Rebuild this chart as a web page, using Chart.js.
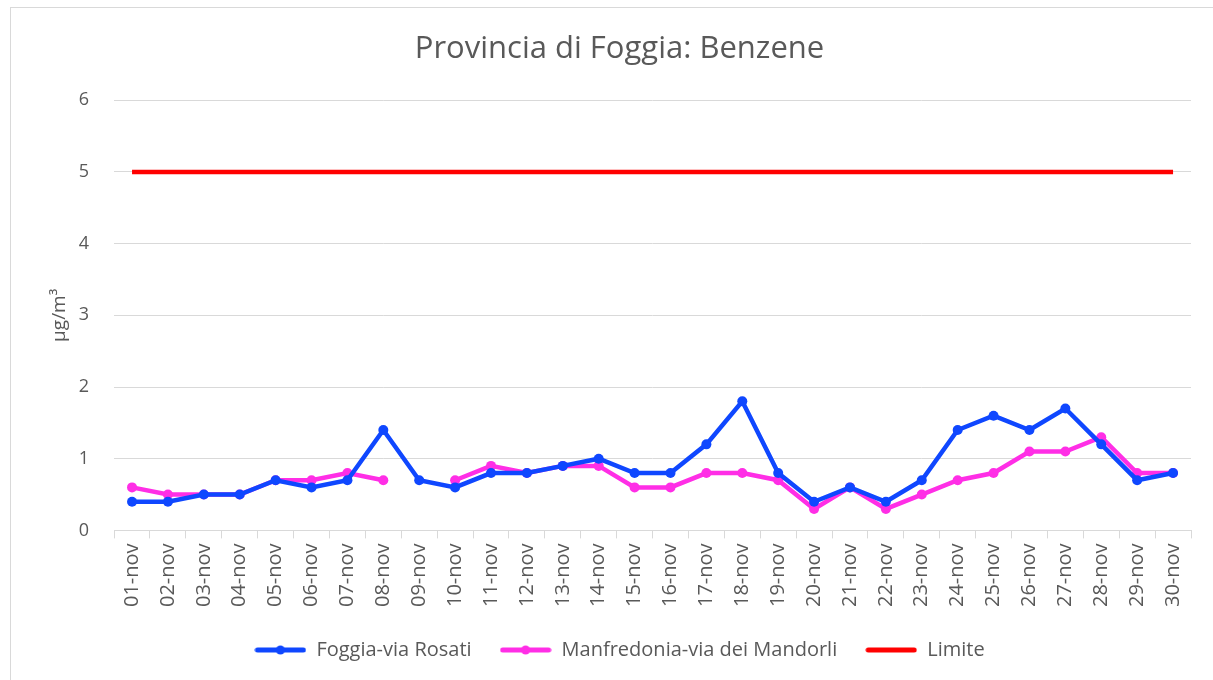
<!DOCTYPE html>
<html>
<head>
<meta charset="utf-8">
<script src="https://cdn.jsdelivr.net/npm/chart.js@4.4.1/dist/chart.umd.min.js"></script>
<style>
  html, body { margin: 0; padding: 0; background: #fff; }
  #wrap { position: absolute; left: 10px; top: 7px; width: 1210px; height: 680px; border: 1px solid #d9d9d9; box-sizing: border-box; }
  #c { position: absolute; left: 0; top: 0; }
</style>
</head>
<body>
<div id="wrap"></div>
<canvas id="c" width="1213" height="680"></canvas>
<script>
const days = ["01-nov","02-nov","03-nov","04-nov","05-nov","06-nov","07-nov","08-nov","09-nov","10-nov",
  "11-nov","12-nov","13-nov","14-nov","15-nov","16-nov","17-nov","18-nov","19-nov","20-nov",
  "21-nov","22-nov","23-nov","24-nov","25-nov","26-nov","27-nov","28-nov","29-nov","30-nov"];
const foggia = [0.4,0.4,0.5,0.5,0.7,0.6,0.7,1.4,0.7,0.6,0.8,0.8,0.9,1.0,0.8,0.8,1.2,1.8,0.8,0.4,
  0.6,0.4,0.7,1.4,1.6,1.4,1.7,1.2,0.7,0.8];
const manfredonia = [0.6,0.5,0.5,0.5,0.7,0.7,0.8,0.7,null,0.7,0.9,0.8,0.9,0.9,0.6,0.6,0.8,0.8,0.7,0.3,
  0.6,0.3,0.5,0.7,0.8,1.1,1.1,1.3,0.8,0.8];
const limite = days.map(() => 5);

const BLUE = "#0f47ff", PINK = "#ff2ee6", RED = "#ff0000";
const GREY = "#595959";

// legend marker: thick line with a dot in the middle
function marker(color, dot) {
  const c = document.createElement("canvas");
  c.width = 52; c.height = 12;
  const g = c.getContext("2d");
  g.strokeStyle = color; g.lineWidth = 5; g.lineCap = "round";
  g.beginPath(); g.moveTo(3, 6); g.lineTo(49, 6); g.stroke();
  if (dot) { g.fillStyle = color; g.beginPath(); g.arc(26, 6, 4.5, 0, Math.PI * 2); g.fill(); }
  return c;
}

const ctx = document.getElementById("c").getContext("2d");
new Chart(ctx, {
  type: "line",
  data: {
    labels: days,
    datasets: [
      { label: "Foggia-via Rosati", data: foggia, borderColor: BLUE, backgroundColor: BLUE,
        borderWidth: 4.5, pointRadius: 5, pointBackgroundColor: BLUE, pointBorderWidth: 0,
        legendMarker: marker(BLUE, true) },
      { label: "Manfredonia-via dei Mandorli", data: manfredonia, borderColor: PINK, backgroundColor: PINK,
        borderWidth: 4.5, pointRadius: 5, pointBackgroundColor: PINK, pointBorderWidth: 0,
        spanGaps: false, legendMarker: marker(PINK, true) },
      { label: "Limite", data: limite, borderColor: RED, backgroundColor: RED,
        borderWidth: 4.5, pointRadius: 0, legendMarker: marker(RED, false) }
    ]
  },
  options: {
    responsive: false,
    animation: false,
    layout: { padding: { left: 48, right: 22, top: 14, bottom: 10 } },
    plugins: {
      title: { display: true, text: "Provincia di Foggia: Benzene", color: GREY,
        font: { family: "Open Sans", size: 31, weight: "normal" }, padding: { top: 17, bottom: 32 } },
      legend: { position: "bottom",
        labels: { usePointStyle: true, pointStyleWidth: 52, color: GREY, padding: 28,
          font: { family: "Open Sans", size: 20 },
          generateLabels: (chart) => chart.data.datasets.map((d, i) => ({
            text: d.label, pointStyle: d.legendMarker, fontColor: GREY,
            strokeStyle: d.borderColor, fillStyle: d.borderColor, lineWidth: 0, datasetIndex: i, hidden: false
          })) } },
      tooltip: { enabled: false }
    },
    scales: {
      y: { min: 0, max: 6,
        ticks: { stepSize: 1, color: GREY, padding: 25, font: { family: "Open Sans", size: 18 } },
        grid: { color: "#d9d9d9", drawTicks: false },
        border: { display: false },
        title: { display: true, text: "µg/m³", color: GREY, font: { family: "Open Sans", size: 19 },
          padding: { top: 0, bottom: -17 } } },
      x: { offset: true,
        ticks: { color: GREY, minRotation: 90, maxRotation: 90, padding: 5, font: { family: "Open Sans", size: 20 } },
        grid: { offset: true, drawOnChartArea: false, color: "#d9d9d9", tickLength: 8 },
        border: { display: true, color: "#d9d9d9" } }
    }
  }
});
</script>
</body>
</html>
